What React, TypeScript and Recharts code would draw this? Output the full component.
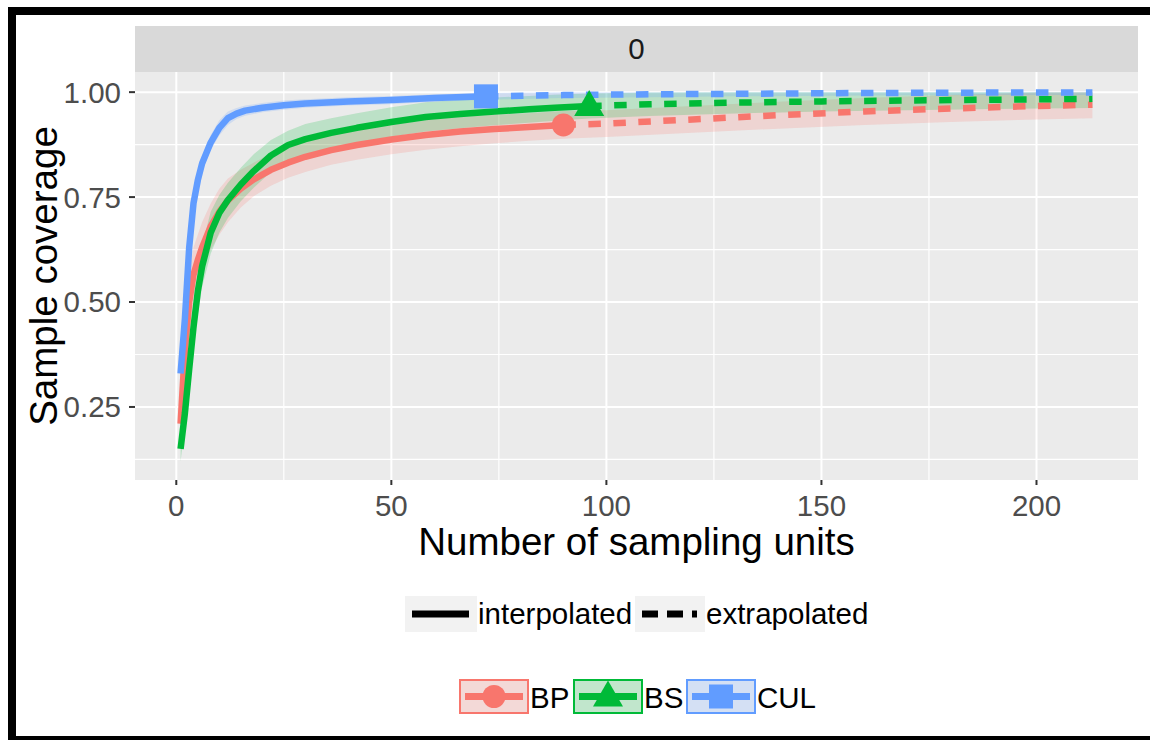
import React from "react";
import { ComposedChart, Line, Area, Scatter, XAxis, YAxis, CartesianGrid } from "recharts";

// BP
const bpInterpM = [1, 2, 3, 4, 5, 6, 8, 10, 12, 15, 18, 22, 26, 30, 36, 42, 50, 58, 66, 74, 82, 90];
const bpInterp = [0.21, 0.385, 0.5, 0.565, 0.6, 0.63, 0.68, 0.715, 0.742, 0.77, 0.792, 0.815, 0.832, 0.846, 0.862, 0.874, 0.887, 0.898, 0.906, 0.912, 0.917, 0.922];
const bpExtrapM = [90, 100, 120, 140, 160, 180, 200, 213];
const bpExtrap = [0.922, 0.925, 0.935, 0.945, 0.954, 0.961, 0.967, 0.97];
const bpLow = [0.16, 0.32, 0.43, 0.5, 0.54, 0.57, 0.625, 0.66, 0.69, 0.725, 0.752, 0.777, 0.796, 0.81, 0.827, 0.839, 0.852, 0.863, 0.871, 0.878, 0.884, 0.889, 0.893, 0.903, 0.913, 0.922, 0.929, 0.935, 0.938];
const bpHigh = [0.26, 0.45, 0.57, 0.63, 0.66, 0.69, 0.735, 0.77, 0.794, 0.815, 0.832, 0.853, 0.868, 0.882, 0.897, 0.909, 0.922, 0.933, 0.941, 0.946, 0.95, 0.955, 0.957, 0.967, 0.977, 0.986, 0.993, 0.999, 1.0];

// BS
const bsInterpM = [1, 2, 3, 4, 5, 6, 8, 10, 12, 15, 18, 22, 26, 30, 36, 42, 50, 58, 66, 74, 82, 88, 96];
const bsInterp = [0.15, 0.235, 0.34, 0.44, 0.525, 0.585, 0.665, 0.712, 0.743, 0.78, 0.812, 0.849, 0.874, 0.888, 0.903, 0.915, 0.929, 0.941, 0.948, 0.954, 0.959, 0.963, 0.967];
const bsExtrapM = [96, 110, 130, 150, 170, 190, 213];
const bsExtrap = [0.967, 0.971, 0.975, 0.978, 0.98, 0.982, 0.984];
const bsLow = [0.12, 0.2, 0.3, 0.39, 0.47, 0.535, 0.615, 0.665, 0.7, 0.74, 0.772, 0.81, 0.836, 0.852, 0.868, 0.88, 0.894, 0.906, 0.914, 0.921, 0.927, 0.932, 0.937, 0.943, 0.949, 0.954, 0.957, 0.96, 0.962];
const bsHigh = [0.18, 0.28, 0.39, 0.49, 0.57, 0.635, 0.715, 0.755, 0.784, 0.82, 0.852, 0.886, 0.908, 0.924, 0.938, 0.95, 0.964, 0.976, 0.982, 0.987, 0.991, 0.994, 0.997, 0.999, 1.0, 1.0, 1.0, 1.0, 1.0];

// CUL
const culInterpM = [1, 2, 3, 4, 5, 6, 7, 8, 10, 12, 14, 16, 20, 25, 30, 40, 50, 60, 72];
const culInterp = [0.33, 0.46, 0.63, 0.735, 0.79, 0.83, 0.855, 0.88, 0.915, 0.938, 0.949, 0.956, 0.963, 0.969, 0.973, 0.978, 0.981, 0.986, 0.99];
const culExtrapM = [72, 90, 110, 130, 160, 190, 213];
const culExtrap = [0.99, 0.993, 0.995, 0.996, 0.998, 0.999, 0.999];
const culLow = [0.3, 0.43, 0.605, 0.715, 0.772, 0.812, 0.837, 0.862, 0.897, 0.922, 0.936, 0.944, 0.952, 0.958, 0.963, 0.968, 0.971, 0.977, 0.982, 0.986, 0.988, 0.99, 0.992, 0.993, 0.993];
const culHigh = [0.36, 0.49, 0.655, 0.755, 0.808, 0.848, 0.873, 0.898, 0.933, 0.954, 0.962, 0.968, 0.974, 0.98, 0.983, 0.988, 0.991, 0.995, 0.998, 1.0, 1.0, 1.0, 1.0, 1.0, 1.0];

const xTicks = [0, 50, 100, 150, 200];
const yTicks = [0.25, 0.5, 0.75, 1.0];
const xMinor = [25, 75, 125, 175];
const yMinor = [0.125, 0.375, 0.625, 0.875];

const FONT = "'Liberation Sans', Arial, sans-serif";
const RED = "#F8766D";
const GREEN = "#00BA38";
const BLUE = "#619CFF";

const pts = (ms: number[], vs: number[]) => ms.map((m, i) => ({ m, v: vs[i] }));
const band = (ms: number[], lo: number[], hi: number[]) => ms.map((m, i) => ({ m, r: [lo[i], hi[i]] }));

const series = [
  { name: "BP", color: RED, interp: pts(bpInterpM, bpInterp), extrap: pts(bpExtrapM, bpExtrap), ci: band([...bpInterpM, ...bpExtrapM.slice(1)], bpLow, bpHigh) },
  { name: "BS", color: GREEN, interp: pts(bsInterpM, bsInterp), extrap: pts(bsExtrapM, bsExtrap), ci: band([...bsInterpM, ...bsExtrapM.slice(1)], bsLow, bsHigh) },
  { name: "CUL", color: BLUE, interp: pts(culInterpM, culInterp), extrap: pts(culExtrapM, culExtrap), ci: band([...culInterpM, ...culExtrapM.slice(1)], culLow, culHigh) },
];

function Marker({ name, cx, cy, color }: { name: string; cx: number; cy: number; color: string }) {
  if (name === "BP") return <circle cx={cx} cy={cy} r={11.5} fill={color} />;
  if (name === "BS") return <polygon points={`${cx},${cy - 16} ${cx - 15},${cy + 10} ${cx + 15},${cy + 10}`} fill={color} />;
  return <rect x={cx - 12} y={cy - 12} width={24} height={24} fill={color} />;
}

function LegendKey({ name, color }: { name: string; color: string }) {
  return (
    <svg width={70} height={35} style={{ display: "block" }}>
      <rect x={0} y={0} width={70} height={35} fill="#f2f2f2" />
      <rect x={1} y={1} width={68} height={33} fill={color} fillOpacity={0.2} stroke={color} strokeWidth={2} />
      <line x1={6} x2={64} y1={17.5} y2={17.5} stroke={color} strokeWidth={7} />
      <Marker name={name} cx={35} cy={17.5} color={color} />
    </svg>
  );
}

export default function App() {
  const legendText: React.CSSProperties = { position: "absolute", fontSize: 29.5, lineHeight: "36px", color: "#000", whiteSpace: "nowrap" };
  return (
    <div style={{ position: "absolute", left: 0, top: 0, width: 1150, height: 740, overflow: "hidden", background: "#fff", fontFamily: FONT }}>
      <div style={{ position: "absolute", left: 8, top: 7, width: 1170, height: 737, border: "8px solid #000", boxSizing: "border-box" }} />

      {/* facet strip */}
      <div style={{ position: "absolute", left: 135, top: 26, width: 1003, height: 46, background: "#D9D9D9", color: "#1A1A1A", fontSize: 29.5, lineHeight: "46px", textAlign: "center" }}>0</div>

      <div style={{ position: "absolute", left: 0, top: 0 }}>
        <ComposedChart width={1150} height={740} margin={{ top: 72, right: 12, bottom: 170, left: 0 }}>
          <CartesianGrid fill="#EBEBEB" stroke="#fff" strokeWidth={1.2} horizontalValues={yMinor} verticalValues={xMinor} />
          <CartesianGrid stroke="#fff" strokeWidth={2} horizontalValues={yTicks} verticalValues={xTicks} />
          <XAxis
            dataKey="m"
            type="number"
            domain={[-9.6, 223.6]}
            allowDataOverflow
            ticks={xTicks}
            interval={0}
            height={90}
            tickSize={5}
            tickMargin={10}
            axisLine={false}
            tickLine={{ stroke: "#333", strokeWidth: 2 }}
            tick={{ fill: "#4D4D4D", fontSize: 29.5, fontFamily: FONT }}
            label={{
              content: () => (
                <text x={636.5} y={555} textAnchor="middle" fontSize={38.5} fill="#000" fontFamily={FONT}>
                  Number of sampling units
                </text>
              ),
            }}
          />
          <YAxis
            type="number"
            domain={[0.076, 1.048]}
            allowDataOverflow
            ticks={yTicks}
            interval={0}
            width={135}
            tickSize={6}
            tickMargin={8}
            axisLine={false}
            tickFormatter={(v: number) => v.toFixed(2)}
            tickLine={{ stroke: "#333", strokeWidth: 2 }}
            tick={{ fill: "#4D4D4D", fontSize: 29.5, fontFamily: FONT }}
            label={{
              content: () => (
                <text transform="translate(57,276) rotate(-90)" textAnchor="middle" fontSize={38.5} fill="#000" fontFamily={FONT}>
                  Sample coverage
                </text>
              ),
            }}
          />
          {series.map((s) => (
            <Scatter
              key={`pt-${s.name}`}
              data={[s.interp[s.interp.length - 1]]}
              dataKey="v"
              isAnimationActive={false}
              shape={(p: any) => <Marker name={s.name} cx={p.cx} cy={p.cy} color={s.color} />}
            />
          ))}
          {series.map((s) => (
            <Line
              key={`in-${s.name}`}
              data={s.interp}
              dataKey="v"
              type="linear"
              stroke={s.color}
              strokeWidth={6.5}
              strokeLinejoin="round"
              dot={false}
              activeDot={false}
              isAnimationActive={false}
            />
          ))}
          {series.map((s) => (
            <Line
              key={`ex-${s.name}`}
              data={s.extrap}
              dataKey="v"
              type="linear"
              stroke={s.color}
              strokeWidth={6.5}
              strokeDasharray="12.5 12.5"
              dot={false}
              activeDot={false}
              isAnimationActive={false}
            />
          ))}
          {series.map((s) => (
            <Area
              key={`ci-${s.name}`}
              data={s.ci}
              dataKey="r"
              type="linear"
              stroke="none"
              fill={s.color}
              fillOpacity={0.2}
              dot={false}
              activeDot={false}
              isAnimationActive={false}
            />
          ))}
        </ComposedChart>
      </div>

      {/* linetype legend */}
      <div style={{ position: "absolute", left: 405, top: 596, width: 72, height: 36, background: "#f2f2f2" }}>
        <svg width={72} height={36} style={{ display: "block" }}>
          <line x1={7} x2={64} y1={18} y2={18} stroke="#000" strokeWidth={7} />
        </svg>
      </div>
      <div style={{ ...legendText, left: 478, top: 596 }}>interpolated</div>
      <div style={{ position: "absolute", left: 635, top: 596, width: 70, height: 36, background: "#f2f2f2" }}>
        <svg width={70} height={36} style={{ display: "block" }}>
          <line x1={7} x2={62} y1={18} y2={18} stroke="#000" strokeWidth={7} strokeDasharray="16 9" />
        </svg>
      </div>
      <div style={{ ...legendText, left: 706, top: 596 }}>extrapolated</div>

      {/* group legend */}
      {[
        { s: series[0], box: 459, text: 530 },
        { s: series[1], box: 573, text: 644 },
        { s: series[2], box: 686, text: 757 },
      ].map(({ s, box, text }) => (
        <React.Fragment key={s.name}>
          <div style={{ position: "absolute", left: box, top: 679 }}>
            <LegendKey name={s.name} color={s.color} />
          </div>
          <div style={{ ...legendText, left: text, top: 680 }}>{s.name}</div>
        </React.Fragment>
      ))}
    </div>
  );
}
